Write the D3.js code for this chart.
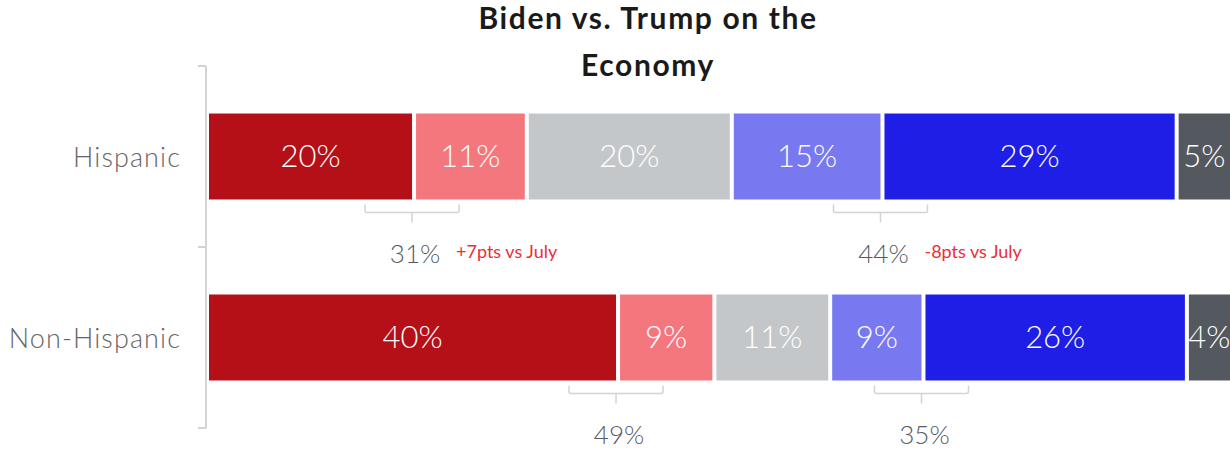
<!DOCTYPE html>
<html lang="en">
<head>
    <meta charset="UTF-8">
    <title>Biden vs. Trump on the Economy</title>
    <script src="https://d3js.org/d3.v7.min.js"></script>
    <style>
        body { margin: 0; background: #fff; }
        text { font-family: "Lato", "Open Sans", sans-serif; }
    </style>
</head>
<body>
    <svg id="chart" width="1230" height="449"></svg>
    <script>
        // Data
        var categories = ["Hispanic", "Non-Hispanic"];
        var segments = ["Trump strong", "Trump lean", "Undecided", "Biden lean", "Biden strong", "Other"];
        var hispanic = [20.2, 11.0, 20.0, 14.7, 28.7, 5.4];
        var nonHispanic = [40.1, 9.4, 11.3, 9.1, 25.7, 4.4];
        var changeNotes = [["+7pts vs July", "-8pts vs July"], ["", ""]];
        var colors = ["#b51018", "#f4777e", "#c4c7ca", "#7878f0", "#1e1ee6", "#54585f"];

        var svg = d3.select("#chart");

        var rows = [hispanic, nonHispanic].map(function(vals, i) {
            var start = 0;
            return {
                name: categories[i],
                notes: changeNotes[i],
                parts: vals.map(function(v, j) {
                    var p = { key: segments[j], value: v, x0: start, x1: start + v, color: colors[j] };
                    start += v;
                    return p;
                })
            };
        });

        var gap = 4;
        var x = d3.scaleLinear().domain([0, 100]).range([209, 1234]);
        var y = d3.scaleBand().domain(categories).range([66, 428])
            .paddingInner(0.525).paddingOuter(0.2625);

        // Title
        var title = svg.append("text")
            .attr("text-anchor", "middle")
            .attr("font-size", 30)
            .attr("font-weight", "bold")
            .attr("letter-spacing", 1.6)
            .attr("fill", "#1a1a1a");
        title.append("tspan").attr("x", 648).attr("y", 29).text("Biden vs. Trump on the");
        title.append("tspan").attr("x", 648).attr("y", 76).text("Economy");

        // Left axis line with ticks at the band boundaries
        var step = y.step();
        var bounds = [y.range()[0]].concat(categories.map(function(c) { return y(c) - y.paddingOuter() * step + step; }));
        var axis = svg.append("g").attr("stroke", "#d3d3d3").attr("stroke-width", 2);
        axis.append("line").attr("x1", 206).attr("x2", 206).attr("y1", bounds[0]).attr("y2", bounds[bounds.length - 1]);
        axis.selectAll("line.tick").data(bounds).enter().append("line")
            .attr("class", "tick")
            .attr("x1", 198).attr("x2", 206)
            .attr("y1", function(d) { return d; }).attr("y2", function(d) { return d; });

        // Category labels
        svg.selectAll("text.cat").data(categories).enter().append("text")
            .attr("class", "cat")
            .attr("x", 181)
            .attr("y", function(d) { return y(d) + y.bandwidth() / 2 + 10; })
            .attr("text-anchor", "end")
            .attr("font-size", 27)
            .attr("font-weight", 300)
            .attr("letter-spacing", 1.1)
            .attr("fill", "#666")
            .text(function(d) { return d; });

        var row = svg.selectAll("g.row").data(rows).enter().append("g")
            .attr("class", "row")
            .attr("transform", function(d) { return "translate(0," + y(d.name) + ")"; });

        var bh = y.bandwidth();

        // Bars, separated by a small white gap
        row.selectAll("rect").data(function(d) { return d.parts; }).enter().append("rect")
            .attr("x", function(d) { return x(d.x0); })
            .attr("width", function(d) { return x(d.x1) - x(d.x0) - gap; })
            .attr("y", 0)
            .attr("height", bh)
            .attr("fill", function(d) { return d.color; });

        row.selectAll("text.val").data(function(d) { return d.parts; }).enter().append("text")
            .attr("class", "val")
            .attr("x", function(d) { return (x(d.x0) + x(d.x1) - gap) / 2; })
            .attr("y", bh / 2 + 11)
            .attr("text-anchor", "middle")
            .attr("font-size", 31)
            .attr("font-weight", 300)
            .attr("fill", "#fff")
            .text(function(d) { return Math.round(d.value) + "%"; });

        // Brackets grouping Trump (0,1) and Biden (3,4) segments
        var groups = row.selectAll("g.group").data(function(d) {
            var p = d.parts;
            return [[p[0], p[1], d.notes[0]], [p[3], p[4], d.notes[1]]].map(function(g) {
                return {
                    cx: x(g[0].x1) - gap,
                    total: Math.round(g[0].value) + Math.round(g[1].value),
                    note: g[2]
                };
            });
        }).enter().append("g").attr("class", "group");

        groups.append("path")
            .attr("fill", "none")
            .attr("stroke", "#d3d3d3")
            .attr("stroke-width", 1.5)
            .attr("d", function(d) {
                var l = d.cx - 47, r = d.cx + 47, t = bh + 5, m = bh + 13;
                return "M" + l + "," + t + "V" + (m - 2) + "Q" + l + "," + m + " " + (l + 2) + "," + m +
                    "H" + (r - 2) + "Q" + r + "," + m + " " + r + "," + (m - 2) + "V" + t +
                    "M" + d.cx + "," + m + "V" + (bh + 23);
            });

        groups.append("text")
            .attr("x", function(d) { return d.cx + 3; })
            .attr("y", bh + 64)
            .attr("text-anchor", "middle")
            .attr("font-size", 26)
            .attr("font-weight", 300)
            .attr("fill", "#555b65")
            .text(function(d) { return d.total + "%"; });

        groups.append("text")
            .attr("x", function(d) { return d.cx + 44; })
            .attr("y", bh + 59)
            .attr("font-size", 18)
            .attr("fill", "#ee2d38")
            .text(function(d) { return d.note; });
    </script>
</body>
</html>
